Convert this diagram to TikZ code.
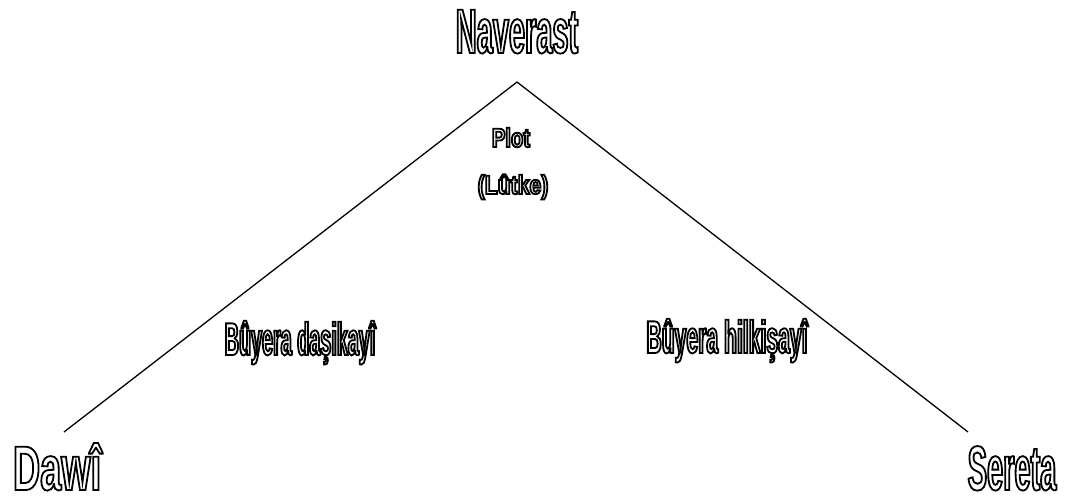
\documentclass[tikz,border=0pt]{standalone}
\usepackage{fontspec}
\setmainfont{Liberation Sans}
\newcommand{\outl}[3]{\special{pdf:literal direct q 1 Tr 1.8 w}{\fontsize{#2}{#2}\selectfont\bfseries\addfontfeatures{FakeStretch=#1}#3}\special{pdf:literal direct Q}}
\tikzset{
  lbl/.style={anchor=base, inner sep=0pt},
  edge/.style={draw=black, line width=1.3pt}
}
\begin{document}
\begin{tikzpicture}[x=1pt,y=-1pt]
\useasboundingbox (0,0) rectangle (1067,498);
\coordinate (apex) at (517,82);
\coordinate (lend) at (64,432);
\coordinate (rend) at (968,432);
\draw[edge] (lend) -- (apex) -- (rend);
\node[lbl] (top) at (517,53) {\outl{0.46}{63pt}{Naverast}};
\node[lbl] (plot) at (511,147) {\outl{0.76}{26.5pt}{Plot}};
\node[lbl] (lutke) at (513,194) {\outl{0.8}{26.5pt}{(Lûtke)}};
\node[lbl] (left) at (300,355) {\outl{0.43}{46pt}{Bûyera daşikayî}};
\node[lbl] (right) at (727,353) {\outl{0.46}{46pt}{Bûyera hilkişayî}};
\node[lbl] (dawi) at (57,490) {\outl{0.6}{63pt}{Dawî}};
\node[lbl] (sereta) at (1012,490) {\outl{0.46}{63pt}{Sereta}};
\end{tikzpicture}
\end{document}
